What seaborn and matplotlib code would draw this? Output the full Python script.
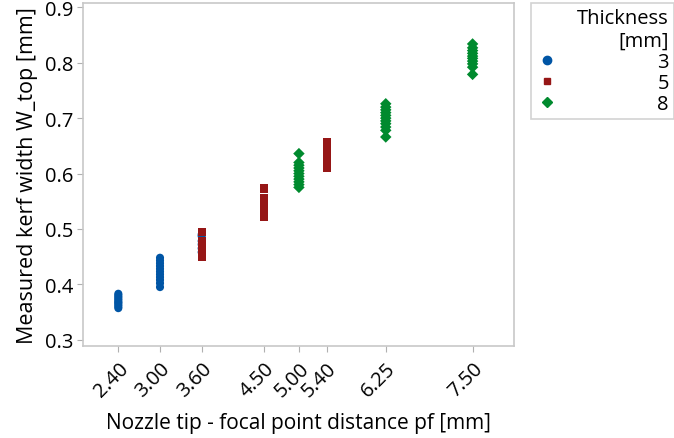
import pandas as pd
import numpy as np
import matplotlib
matplotlib.use('Agg')
import matplotlib.pyplot as plt
import seaborn as sns

# Measured kerf width per nozzle distance
pf_3mm = [2.40, 3.00, 3.60]
w_3mm = [
    [0.357, 0.360, 0.363, 0.366, 0.368, 0.371, 0.374, 0.377, 0.380, 0.383],
    [0.395, 0.402, 0.408, 0.413, 0.418, 0.423, 0.428, 0.433, 0.438, 0.443, 0.448],
    [0.458, 0.465, 0.472, 0.478, 0.487, 0.490],
]
pf_5mm = [3.60, 4.50, 5.40]
w_5mm = [
    [0.450, 0.455, 0.460, 0.465, 0.470, 0.475, 0.479, 0.494],
    [0.522, 0.527, 0.532, 0.537, 0.542, 0.547, 0.552, 0.556, 0.573],
    [0.610, 0.616, 0.622, 0.628, 0.634, 0.640, 0.646, 0.652, 0.656],
]
pf_8mm = [5.00, 6.25, 7.50]
w_8mm = [
    [0.575, 0.580, 0.585, 0.590, 0.595, 0.600, 0.605, 0.610, 0.615, 0.620, 0.636],
    [0.666, 0.678, 0.684, 0.690, 0.695, 0.700, 0.705, 0.710, 0.715, 0.720, 0.726],
    [0.779, 0.792, 0.798, 0.803, 0.808, 0.812, 0.817, 0.822, 0.827, 0.834],
]
x_ticks = [2.40, 3.00, 3.60, 4.50, 5.00, 5.40, 6.25, 7.50]
thickness = ['3', '5', '8']
colors = ['#0055a5', '#961616', '#008a2e']
markers = ['o', 's', 'D']

# Build long table
rows = []
for t, pfs, ws in zip(thickness, [pf_3mm, pf_5mm, pf_8mm], [w_3mm, w_5mm, w_8mm]):
    for pf, vals in zip(pfs, ws):
        for v in vals:
            rows.append({'pf': pf, 'w': v, 'Thickness': t})
df = pd.DataFrame(rows)

sns.set_style('white')
plt.rcParams['font.family'] = ['Open Sans', 'DejaVu Sans']
plt.rcParams['text.color'] = 'black'
plt.rcParams['axes.labelcolor'] = 'black'

fig = plt.figure(figsize=(6.74, 4.39), dpi=100)
ax = fig.add_axes([0.123, 0.21, 0.64, 0.781])

sns.scatterplot(data=df, x='pf', y='w', hue='Thickness', style='Thickness',
                palette=colors, markers=dict(zip(thickness, markers)),
                hue_order=thickness, style_order=thickness,
                s=34, linewidth=0, ax=ax, legend=False)

ax.set_xlim(1.89, 8.10)
ax.set_ylim(0.289, 0.908)
ax.set_xticks(x_ticks)
ax.set_xticklabels([f'{v:.2f}' for v in x_ticks], rotation=45, ha='right',
                   rotation_mode='anchor')
ax.set_yticks([0.3, 0.4, 0.5, 0.6, 0.7, 0.8, 0.9])
ax.tick_params(axis='both', labelsize=14.5, length=4, color='#b0b0b0',
               labelcolor='black', direction='out', bottom=True, left=True, pad=3)
ax.tick_params(axis='x', pad=5)
for sp in ax.spines.values():
    sp.set_color('#c8c8c8')
    sp.set_linewidth(1.2)
ax.set_xlabel('Nozzle tip - focal point distance pf [mm]', fontsize=15, labelpad=8)
ax.set_ylabel('Measured kerf width W_top [mm]', fontsize=15.5, labelpad=5)

# Legend outside on the right
handles = [plt.Line2D([], [], marker=m, color=c, linestyle='', markersize=ms)
           for m, c, ms in zip(markers, colors, [6, 5, 5])]
leg = ax.legend(handles, thickness, title='Thickness\n[mm]', loc='upper right',
                bbox_to_anchor=(1.0, 0.991), bbox_transform=fig.transFigure,
                frameon=True, fontsize=14.5, title_fontsize=14.5,
                handletextpad=5.0, alignment='right', borderpad=0.25,
                labelspacing=0.05, fancybox=False, edgecolor='#c8c8c8',
                handlelength=1.0, borderaxespad=0)
leg.get_title().set_multialignment('right')
leg.get_frame().set_linewidth(1.2)

fig.savefig('out.png', dpi=100)
